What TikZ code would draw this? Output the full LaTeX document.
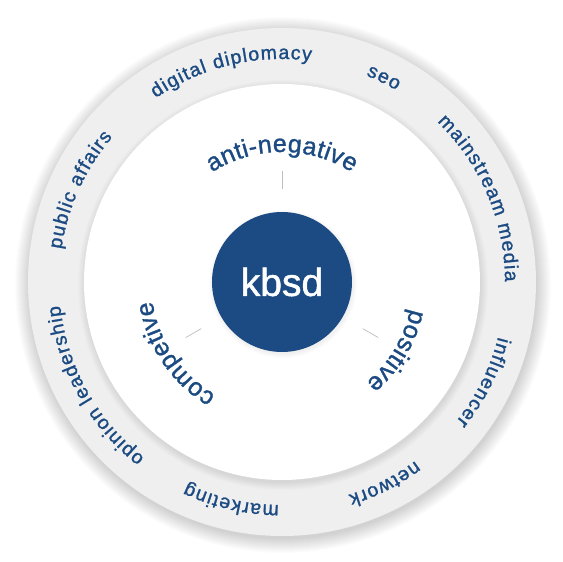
\documentclass[tikz,border=0pt]{standalone}
\usepackage{fontspec}
\setmainfont{Liberation Sans}
\newfontfamily\labelfont{Liberation Sans}[FakeBold=1.2]
\usetikzlibrary{decorations.text}

\definecolor{kbblue}{HTML}{1B4B82}
\definecolor{ringgrey}{HTML}{EFEFEF}
\definecolor{tickgrey}{HTML}{BDBDBD}

\begin{document}
\begin{tikzpicture}[
    outerlabel/.style={decorate, decoration={text effects along path, text={#1},
        text align=center, text effects/.cd, text along path,
        characters={text=kbblue, font=\labelfont\fontsize{19.5}{23}\selectfont},
        character widths={font=\labelfont\fontsize{19.5}{23}\selectfont, inner xsep=0.6pt}}},
    innerlabel/.style={decorate, decoration={text effects along path, text={#1},
        text align=center, text effects/.cd, text along path,
        characters={text=kbblue, font=\labelfont\fontsize{25}{29}\selectfont},
        character widths={font=\labelfont\fontsize{25}{29}\selectfont, inner xsep=0.2pt}}},
    tickline/.style={draw=tickgrey, line width=0.7pt},
    softshadow/.style={fill=black, opacity=0.012}
]
    \useasboundingbox (-282pt,-280pt) rectangle (281pt,282pt);

    % Soft shadow under the grey ring
    \foreach \s in {0,...,14}
        \path[softshadow] (1pt,-3pt) circle[radius={(254+\s)*1pt}];
    % Grey ring
    \fill[ringgrey] (0,0) circle[radius=254pt];
    % Shadow of the white disk on the ring
    \foreach \s in {0,...,7}
        \path[softshadow] (1pt,-3pt) circle[radius={(198+\s)*1pt}];
    % White disk
    \fill[white] (0,0) circle[radius=198pt];
    % Shadow of the centre disk
    \foreach \s in {0,...,4}
        \path[softshadow] (1pt,-2pt) circle[radius={(70+\s)*1pt}];

    % Centre disk
    \node[circle, fill=kbblue, minimum size=140pt, inner sep=0pt, text=white,
        font=\labelfont\fontsize{39}{45}\selectfont] (core) at (0,0) {kbsd};

    % Short ticks pointing at the three inner labels
    \draw[tickline] (core.90) ++(90:23pt) -- ++(90:18pt);
    \draw[tickline] (core.210) ++(210:23pt) -- ++(210:18pt);
    \draw[tickline] (core.330) ++(330:23pt) -- ++(330:18pt);

    % Inner labels
    \path[innerlabel={anti-negative}] (170:130pt) arc[start angle=170, end angle=10, radius=130pt];
    \path[innerlabel={positive}] (49:131pt) arc[start angle=49, end angle=-111, radius=131pt];
    \path[innerlabel={competive}] (294:131pt) arc[start angle=294, end angle=134, radius=131pt];

    % Outer labels on the ring
    \path[outerlabel={digital diplomacy}] (173.5:223pt) arc[start angle=173.5, end angle=33.5, radius=223pt];
    \path[outerlabel={seo}] (133.5:223pt) arc[start angle=133.5, end angle=-6.5, radius=223pt];
    \path[outerlabel={mainstream media}] (93:223pt) arc[start angle=93, end angle=-47, radius=223pt];
    \path[outerlabel={influencer}] (43.5:223pt) arc[start angle=43.5, end angle=-96.5, radius=223pt];
    \path[outerlabel={network}] (7:223pt) arc[start angle=7, end angle=-133, radius=223pt];
    \path[outerlabel={marketing}] (-33:223pt) arc[start angle=-33, end angle=-173, radius=223pt];
    \path[outerlabel={opinion leadership}] (279:223pt) arc[start angle=279, end angle=139, radius=223pt];
    \path[outerlabel={public affairs}] (225.5:223pt) arc[start angle=225.5, end angle=85.5, radius=223pt];
\end{tikzpicture}
\end{document}
